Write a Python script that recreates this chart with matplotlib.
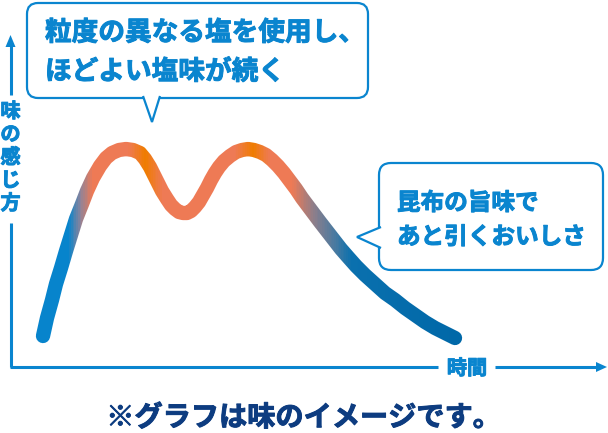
import numpy as np
import matplotlib
matplotlib.use("Agg")
import matplotlib.pyplot as plt
import matplotlib.patheffects as pe
from matplotlib.colors import LinearSegmentedColormap
from matplotlib.patches import FancyBboxPatch, Polygon, Rectangle

plt.rcParams['font.family'] = ['Noto Sans CJK JP', 'DejaVu Sans']

BLUE = '#0a85cf'
NAVY = '#0d3c80'

# curve: time (right of origin) and taste (above origin)
time = [33, 37, 42, 46, 51, 56, 61, 66, 72, 77, 83, 90, 96, 102, 109, 116,
        123, 130, 135, 140, 144, 148, 152, 157, 161, 165, 169, 173, 177, 181,
        185, 189, 193, 197, 201, 205, 209, 214, 220, 226, 232, 238, 244, 250,
        256, 262, 268, 274, 280, 286, 292, 298, 304, 310, 317, 324, 331, 338,
        346, 355, 365, 375, 385, 395, 405, 415, 425, 435, 445]
taste = [31, 49, 67, 83, 99, 116, 132, 148, 163, 176, 189, 201, 209, 214,
         217, 218, 217, 214, 208, 200, 192, 184, 176, 168, 162, 158, 155, 154,
         154, 156, 160, 165, 172, 179, 187, 194, 200, 206, 211, 215, 217, 218,
         217, 215, 212, 207, 201, 194, 186, 178, 169, 161, 153, 145, 136, 127,
         118, 110, 101, 92, 83, 74, 67, 59, 52, 45, 39, 34, 29]

# colour stops along the time axis
grad_t = [0, 58, 70, 82, 118, 135, 152, 225, 243, 260, 282, 305, 325, 342, 446]
grad_c = ['#0784cc', '#0784cc', '#8f8399', '#ee7a55', '#ee7a55', '#ef7c00',
          '#ee7a55', '#ee7a55', '#ef7c00', '#ee7a55', '#ee7a55', '#8a7e8c',
          '#4a7aa0', '#0a70ae', '#0068a8']

bubble1 = ['粒度の異なる塩を使用し、', 'ほどよい塩味が続く']
bubble2 = ['昆布の旨味で', 'あと引くおいしさ']
y_label = '味の感じ方'
x_label = '時間'
note = '※グラフは味のイメージです。'

fig = plt.figure(figsize=(6.08, 4.33), dpi=100)
ax = fig.add_axes([0, 0, 1, 1])
ax.set_xlim(-10, 598)
ax.set_ylim(-66, 367)
ax.axis('off')


def bold_fx(color):
    # a thin outline in the text colour makes the glyphs look heavier
    return [pe.withStroke(linewidth=0.7, foreground=color)]


# axes with arrows and gaps for the labels
ax.plot([0.5, 0.5], [0, 144], color=BLUE, lw=2.2, solid_capstyle='butt')
ax.plot([0.5, 0.5], [272, 322], color=BLUE, lw=2.2, solid_capstyle='butt')
ax.add_patch(Polygon([[-4.5, 320], [5.5, 320], [0.5, 332]], closed=True,
                     color=BLUE, lw=0))
ax.plot([0, 428], [0, 0], color=BLUE, lw=2.2, solid_capstyle='butt')
ax.plot([485, 588], [0, 0], color=BLUE, lw=2.2, solid_capstyle='butt')
ax.add_patch(Polygon([[586, 5], [586, -5], [597, 0]], closed=True,
                     color=BLUE, lw=0))

for i, ch in enumerate(y_label):
    ax.text(0.5, 256 - i * 23, ch, color=BLUE, fontsize=14.5,
            fontweight='bold', ha='center', va='center',
            path_effects=bold_fx(BLUE))
ax.text(457, -1, x_label, color=BLUE, fontsize=14.5, fontweight='bold',
        ha='center', va='center', path_effects=bold_fx(BLUE))

# gradient curve: the same thick line drawn in thin vertical strips
cmap = LinearSegmentedColormap.from_list(
    'taste', [(t / grad_t[-1], c) for t, c in zip(grad_t, grad_c)])
edges = np.arange(20, 462, 1.0)
for left in edges:
    strip = Rectangle((left, -20), 1.0, 260, transform=ax.transData)
    line, = ax.plot(time, taste, color=cmap((left + 0.5) / grad_t[-1]),
                    lw=10.3, solid_capstyle='round', solid_joinstyle='round',
                    zorder=3)
    line.set_clip_path(strip)


# speech bubbles
def bubble(x0, y0, x1, y1, tail, r):
    box = FancyBboxPatch((x0, y0), x1 - x0, y1 - y0,
                         boxstyle=f'round,pad=0,rounding_size={r}',
                         fc='white', ec=BLUE, lw=1.6, zorder=4)
    ax.add_patch(box)
    ax.add_patch(Polygon(tail, closed=False, fc='white', ec=BLUE, lw=1.6,
                         zorder=5, joinstyle='miter'))


bubble(17, 269, 358, 364, [[133, 271], [142, 245], [150, 271]], 11)
bubble(369, 97, 593, 204, [[371, 140], [347, 130], [371, 119]], 12)

for i, line in enumerate(bubble1):
    ax.text(35, 334 - i * 39, line, color=BLUE, fontsize=19.2,
            fontweight='bold', ha='left', va='center', zorder=6,
            path_effects=bold_fx(BLUE))
for i, line in enumerate(bubble2):
    ax.text(387, 164 - i * 34, line, color=BLUE, fontsize=17,
            fontweight='bold', ha='left', va='center', zorder=6,
            path_effects=bold_fx(BLUE))

ax.text(294, -51, note, color=NAVY, fontsize=20.3, fontweight='bold',
        ha='center', va='center', path_effects=bold_fx(NAVY))

fig.savefig('out.png', dpi=100, facecolor='white')
